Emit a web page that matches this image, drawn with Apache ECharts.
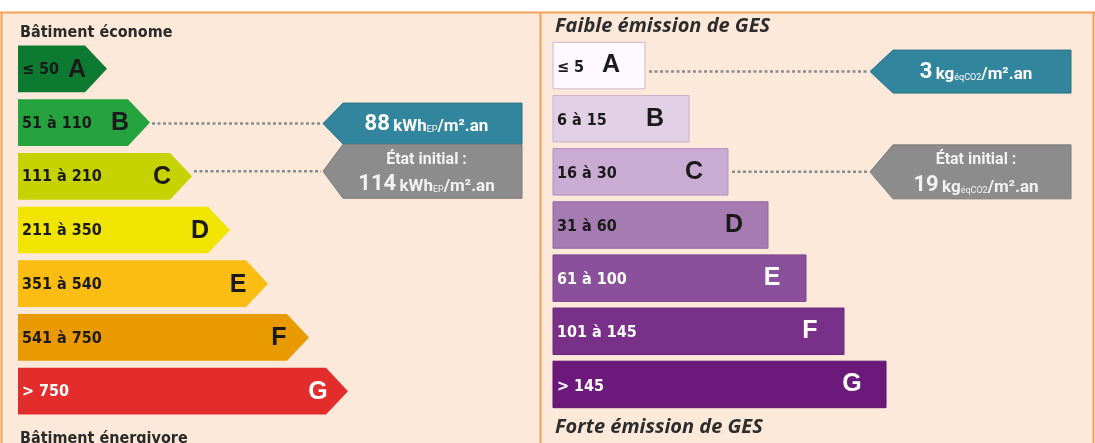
<!DOCTYPE html>
<html>
<head>
<meta charset="utf-8">
<script src="https://cdn.jsdelivr.net/npm/echarts@6/dist/echarts.min.js"></script>
<style>
  html, body { margin: 0; padding: 0; background: #fff; }
  #chart { width: 1095px; height: 443px; }
</style>
</head>
<body>
<div id="chart"></div>
<script>
// classes (shared by both scales)
const classes = ['A', 'B', 'C', 'D', 'E', 'F', 'G']

// consommation energetique (kWhEP/m².an)
const energyRanges = ['≤ 50', '51 à 110', '111 à 210', '211 à 350', '351 à 540', '541 à 750', '> 750']
const energyLimits = [50, 110, 210, 350, 540, 750]
const energyBarEnds = [89, 132, 174, 212, 250, 291, 330]
const energyNotes = [88, 114] // actuel, etat initial

// emissions GES (kgéqCO2/m².an)
const gesRanges = ['≤ 5', '6 à 15', '16 à 30', '31 à 60', '61 à 100', '101 à 145', '> 145']
const gesLimits = [5, 15, 30, 60, 100, 145]
const gesBarEnds = [92, 136, 175, 215, 253, 291, 333]
const gesNotes = [3, 19]

// styles
const energyColors = ['#0c7a30', '#25a33e', '#c6d300', '#f1e500', '#fbbd12', '#e99a00', '#e32c2c']
const energyTextColors = ['#1a1a1a', '#1a1a1a', '#1a1a1a', '#1a1a1a', '#1a1a1a', '#1a1a1a', '#ffffff']
const gesColors = ['#fdf9fd', '#e1cfe6', '#c9abd3', '#a57bb1', '#8b509b', '#783088', '#6b1a7b']
const gesBorders = ['#cdb6d5', '#c8b0d0', '#b393bf', '#93699f', '#7a438a', '#6a2779', '#5c136b']
const gesTextColors = ['#1a1a1a', '#1a1a1a', '#1a1a1a', '#1a1a1a', '#ffffff', '#ffffff', '#ffffff']
const teal = '#31859c'
const grey = '#8c8c8c'

function classOf(value, limits) {
  let i = 0
  while (i < limits.length && value > limits[i]) i++
  return i
}

const narrow = '"DejaVu Sans Condensed", "Liberation Sans Narrow", "Open Sans", sans-serif'
const rangeFont = 'bold 16px ' + narrow
const letterFont = 'bold 25px "Liberation Sans", Arial, sans-serif'

/** fleches du DPE */
function renderArrow(params, api) {
  const i = api.value(1)
  const end = api.coord([api.value(0), i])
  const x0 = api.coord([0, i])[0]
  const h = api.size([0, 1])[1] * 0.87
  const cy = end[1]
  const top = cy - h / 2
  const bot = cy + h / 2
  const d = 22
  return {
    type: 'group',
    children: [
      {
        type: 'polygon',
        shape: { points: [[x0, top], [end[0] - d, top], [end[0], cy], [end[0] - d, bot], [x0, bot]] },
        style: { fill: energyColors[i] }
      },
      {
        type: 'text',
        style: { text: energyRanges[i], x: x0 + 4, y: cy + 1, verticalAlign: 'middle', fill: energyTextColors[i], font: rangeFont }
      },
      {
        type: 'text',
        style: { text: classes[i], x: end[0] - 30, y: cy + 1, align: 'center', verticalAlign: 'middle', fill: energyTextColors[i], font: letterFont }
      }
    ]
  }
}

/** barres GES */
function renderBar(params, api) {
  const i = api.value(1)
  const end = api.coord([api.value(0), i])
  const x0 = api.coord([0, i])[0]
  const h = api.size([0, 1])[1] * 0.875
  const cy = end[1]
  return {
    type: 'group',
    children: [
      {
        type: 'rect',
        shape: { x: x0, y: cy - h / 2, width: end[0] - x0, height: h },
        style: { fill: gesColors[i], stroke: gesBorders[i], lineWidth: 1 }
      },
      {
        type: 'text',
        style: { text: gesRanges[i], x: x0 + 4, y: cy + 2, verticalAlign: 'middle', fill: gesTextColors[i], font: rangeFont }
      },
      {
        type: 'text',
        style: { text: classes[i], x: end[0] - 34, y: cy, align: 'center', verticalAlign: 'middle', fill: gesTextColors[i], font: letterFont }
      }
    ]
  }
}

const calloutFonts = {
  b: { fontSize: 22, fontWeight: 'bold', fontFamily: 'Roboto, sans-serif', lineHeight: 25 },
  u: { fontSize: 17, fontWeight: 'bold', fontFamily: 'Roboto, sans-serif', lineHeight: 25, verticalAlign: 'bottom', padding: [0, 0, 2, 0] },
  s: { fontSize: 9, fontFamily: 'Roboto, sans-serif', lineHeight: 25, verticalAlign: 'bottom', padding: [0, 0, 3, 0] },
  t: { fontSize: 16, fontWeight: 'bold', fontFamily: 'Roboto, sans-serif', lineHeight: 25 }
}

/** etiquettes : valeur actuelle et etat initial */
function makeCallout(barEnds, layout, unitText) {
  return function (params, api) {
    const value = api.value(0)
    const cls = api.value(1)
    const state = api.value(2)
    const s = state ? layout.initial : layout.current
    const tip = api.coord([layout.tip, cls])
    const endX = api.coord([layout.end, cls])[0]
    const barX = api.coord([barEnds[cls], cls])[0] + layout.gap
    const cy = tip[1] + s.dy
    const top = cy - s.h / 2
    const bot = cy + s.h / 2
    const d = layout.depth
    const line = `{b|${value}} ${unitText}`
    const text = state ? `{t|État initial :}\n${line}` : line
    return {
      type: 'group',
      children: [
        {
          type: 'line',
          shape: { x1: barX, y1: cy, x2: tip[0] - 2, y2: cy },
          style: { stroke: '#8a8a8a', lineWidth: 2.5, lineDash: [3, 2.5] }
        },
        {
          type: 'polygon',
          shape: { points: [[tip[0], cy], [tip[0] + d, top], [endX, top], [endX, bot], [tip[0] + d, bot]] },
          style: { fill: state ? grey : teal, stroke: state ? '#7a7a7a' : '#2a7387', lineWidth: 1 }
        },
        {
          type: 'text',
          style: {
            text: text,
            x: (tip[0] + d + endX) / 2 + layout.textDx,
            y: cy + 1,
            align: 'center',
            verticalAlign: 'middle',
            fill: state ? '#f2f2f2' : '#ffffff',
            rich: calloutFonts
          }
        }
      ]
    }
  }
}

const chart = echarts.init(document.getElementById('chart'))

const option = {
  animation: false,
  grid: [
    { left: 18, top: 42, width: 510, height: 376 },
    { left: 553, top: 39, width: 520, height: 372 }
  ],
  xAxis: [
    { gridIndex: 0, type: 'value', min: 0, max: 510, show: false },
    { gridIndex: 1, type: 'value', min: 0, max: 520, show: false }
  ],
  yAxis: [
    { gridIndex: 0, type: 'category', data: classes, inverse: true, show: false },
    { gridIndex: 1, type: 'category', data: classes, inverse: true, show: false }
  ],
  graphic: [
    { type: 'rect', z: -1, silent: true, shape: { x: 0, y: 12, width: 1095, height: 431 }, style: { fill: '#fde9d9' } },
    { type: 'line', z: 10, silent: true, shape: { x1: 0, y1: 12.5, x2: 1095, y2: 12.5 }, style: { stroke: '#f7a05a', lineWidth: 2 } },
    { type: 'line', z: 10, silent: true, shape: { x1: 1.5, y1: 12, x2: 1.5, y2: 443 }, style: { stroke: '#f7a05a', lineWidth: 2 } },
    { type: 'line', z: 10, silent: true, shape: { x1: 540.5, y1: 12, x2: 540.5, y2: 443 }, style: { stroke: '#f7a05a', lineWidth: 2 } },
    { type: 'line', z: 10, silent: true, shape: { x1: 1093.5, y1: 12, x2: 1093.5, y2: 443 }, style: { stroke: '#f7a05a', lineWidth: 2 } },
    {
      type: 'text', left: 20, top: 25, z: 5,
      style: { text: 'Bâtiment économe', fill: '#2a2a2a', font: 'bold 16px ' + narrow }
    },
    {
      type: 'text', left: 20, top: 431, z: 5,
      style: { text: 'Bâtiment énergivore', fill: '#2a2a2a', font: 'bold 16px ' + narrow }
    },
    {
      type: 'text', left: 555, top: 16, z: 5,
      style: { text: 'Faible émission de GES', fill: '#2d2d2d', font: 'italic bold 20px "Open Sans", sans-serif' }
    },
    {
      type: 'text', left: 555, top: 417, z: 5,
      style: { text: 'Forte émission de GES', fill: '#2d2d2d', font: 'italic bold 20px "Open Sans", sans-serif' }
    }
  ],
  series: [
    {
      name: 'Consommation',
      type: 'custom',
      xAxisIndex: 0,
      yAxisIndex: 0,
      encode: { x: 0, y: 1 },
      data: energyBarEnds.map((v, i) => [v, i]),
      renderItem: renderArrow
    },
    {
      name: 'GES',
      type: 'custom',
      xAxisIndex: 1,
      yAxisIndex: 1,
      encode: { x: 0, y: 1 },
      data: gesBarEnds.map((v, i) => [v, i]),
      renderItem: renderBar
    },
    {
      name: 'Consommation etiquettes',
      type: 'custom',
      xAxisIndex: 0,
      yAxisIndex: 0,
      encode: { x: 0, y: 1 },
      data: energyNotes.map((v, k) => [v, classOf(v, energyLimits), k]),
      renderItem: makeCallout(energyBarEnds, {
        tip: 305, end: 504, depth: 20, gap: 2, textDx: -6,
        current: { h: 41, dy: 1 },
        initial: { h: 54, dy: -5 }
      }, '{u|kWh}{s|EP}{u|/m².an}')
    },
    {
      name: 'GES etiquettes',
      type: 'custom',
      xAxisIndex: 1,
      yAxisIndex: 1,
      encode: { x: 0, y: 1 },
      data: gesNotes.map((v, k) => [v, classOf(v, gesLimits), k]),
      renderItem: makeCallout(gesBarEnds, {
        tip: 317, end: 518, depth: 23, gap: 4, textDx: -6,
        current: { h: 43, dy: 6 },
        initial: { h: 54, dy: 0 }
      }, '{u|kg}{s|éqCO2}{u|/m².an}')
    }
  ]
}

chart.setOption(option)
</script>
</body>
</html>
